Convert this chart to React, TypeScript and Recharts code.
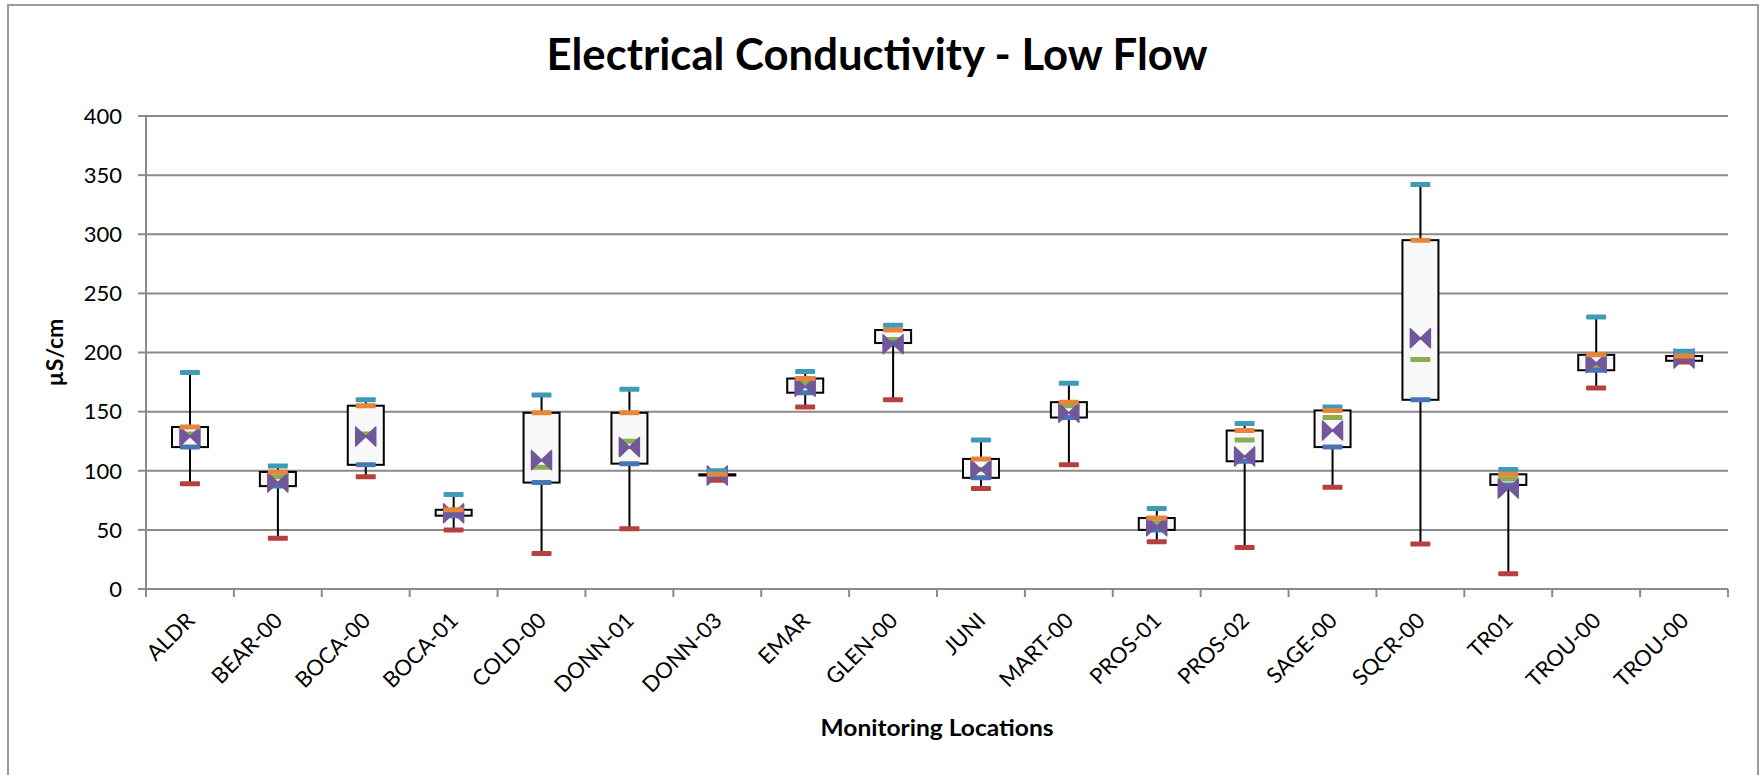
import {
  ComposedChart,
  Bar,
  Line,
  XAxis,
  YAxis,
  CartesianGrid
} from "recharts";

const categories = [
  "ALDR", "BEAR-00", "BOCA-00", "BOCA-01", "COLD-00", "DONN-01", "DONN-03", "EMAR", "GLEN-00",
  "JUNI", "MART-00", "PROS-01", "PROS-02", "SAGE-00", "SQCR-00", "TR01", "TROU-00", "TROU-00"
];
const minVals = [89, 43, 95, 50, 30, 51, 92, 154, 160, 85, 105, 40, 35, 86, 38, 13, 170, 192];
const q1Vals = [120, 87, 105, 62, 90, 106, 96, 166, 208, 94, 145, 50, 108, 120, 160, 88, 185, 193];
const medianVals = [131, 95, 131, 65, 103, 125, 97, 174, 211, 101, 155, 56, 126, 145, 194, 93, 189, 195];
const q3Vals = [137, 99, 155, 67, 149, 149, 97, 178, 219, 110, 158, 60, 134, 151, 295, 97, 198, 197];
const maxVals = [183, 104, 160, 80, 164, 169, 100, 184, 223, 126, 174, 68, 140, 154, 342, 101, 230, 201];
const meanVals = [129, 90, 129, 64, 109, 120, 96, 171, 207, 101, 149, 53, 112, 134, 212, 85, 191, 195];

const yTicks = [0, 50, 100, 150, 200, 250, 300, 350, 400];

// category i sits at i + 0.5, tick marks between categories at integers
const xTicks: number[] = [];
for (let i = 0; i <= categories.length; i++) {
  xTicks.push(i);
  if (i < categories.length) xTicks.push(i + 0.5);
}

const data = categories.map((name, i) => ({
  x: i + 0.5,
  name,
  base: minVals[i],
  lowW: q1Vals[i] - minVals[i],
  box: q3Vals[i] - q1Vals[i],
  highW: maxVals[i] - q3Vals[i],
  min: minVals[i],
  q1: q1Vals[i],
  median: medianVals[i],
  q3: q3Vals[i],
  max: maxVals[i],
  mean: meanVals[i]
}));

const GRID = "#8a8a8a";
const FONT = "Lato, 'Open Sans', sans-serif";

const Whisker = (p: any) => (
  <line x1={p.x + p.width / 2} x2={p.x + p.width / 2} y1={p.y} y2={p.y + p.height} stroke="#000" strokeWidth={2} />
);
const BoxShape = (p: any) => (
  <rect x={p.x} y={p.y} width={p.width} height={Math.max(p.height, 1)} fill="#f8f8f8" stroke="#000" strokeWidth={2} />
);

const dash = (color: string) => (p: any) => {
  if (p.cx == null || p.cy == null) return <g key={p.key} />;
  return <rect key={p.key} x={p.cx - 10} y={p.cy - 2.5} width={20} height={5} rx={1} fill={color} />;
};

const bowtie = (p: any) => {
  if (p.cx == null || p.cy == null) return <g key={p.key} />;
  const { cx, cy } = p;
  return (
    <path
      key={p.key}
      d={`M${cx - 10},${cy - 9.5} L${cx},${cy} L${cx - 10},${cy + 9.5} Z M${cx + 10},${cy - 9.5} L${cx},${cy} L${cx + 10},${cy + 9.5} Z`}
      fill="#72589b"
      stroke="#72589b"
      strokeWidth={1.5}
      strokeLinejoin="round"
    />
  );
};

const XTick = (props: any) => {
  const { x, y, payload } = props;
  const v = payload.value;
  if (Number.isInteger(v)) {
    return <line x1={x} x2={x} y1={y} y2={y + 8} stroke={GRID} strokeWidth={2} />;
  }
  const tx = x + 6;
  const ty = y + 33;
  return (
    <text
      x={tx}
      y={ty}
      transform={`rotate(-45 ${tx} ${ty})`}
      textAnchor="end"
      fontSize={22}
      fontFamily={FONT}
      fill="#000"
    >
      {categories[Math.floor(v)]}
    </text>
  );
};

export default function App() {
  return (
    <div
      style={{
        position: "absolute",
        left: 0,
        top: 0,
        width: 1759,
        height: 775,
        overflow: "hidden",
        background: "#fff"
      }}
    >
      <div
        style={{
          position: "absolute",
          left: 7,
          top: 4,
          width: 1748,
          height: 800,
          border: "2px solid #9a9a9a"
        }}
      />
      <svg width={1759} height={100} style={{ position: "absolute", left: 0, top: 0 }}>
        <text
          x={877}
          y={70}
          textAnchor="middle"
          fontSize={44}
          fontWeight="bold"
          fontFamily={FONT}
          textLength={661}
          lengthAdjust="spacingAndGlyphs"
        >
          Electrical Conductivity - Low Flow
        </text>
      </svg>
      <div style={{ position: "absolute", left: 0, top: 0 }}>
        <ComposedChart
          width={1759}
          height={775}
          data={data}
          margin={{ top: 116, right: 31, bottom: 36, left: 0 }}
        >
          <CartesianGrid vertical={false} stroke={GRID} strokeWidth={2} />
          <XAxis
            dataKey="x"
            type="number"
            domain={[0, categories.length]}
            ticks={xTicks}
            interval={0}
            height={150}
            tickSize={0}
            tickMargin={0}
            tickLine={false}
            axisLine={{ stroke: GRID, strokeWidth: 2 }}
            tick={<XTick />}
            label={{
              content: (lp: any) => {
                const vb = lp.viewBox || {};
                return (
                  <text
                    x={vb.x + vb.width / 2}
                    y={736}
                    textAnchor="middle"
                    fontSize={22}
                    fontWeight="bold"
                    fontFamily={FONT}
                    textLength={233}
                    lengthAdjust="spacingAndGlyphs"
                  >
                    Monitoring Locations
                  </text>
                );
              }
            }}
          />
          <YAxis
            type="number"
            domain={[0, 400]}
            ticks={yTicks}
            interval={0}
            width={146}
            tickSize={8}
            tickMargin={16}
            tickLine={{ stroke: GRID, strokeWidth: 2 }}
            axisLine={{ stroke: GRID, strokeWidth: 2 }}
            tick={{ fill: "#000", fontSize: 22, fontFamily: FONT }}
            label={{
              content: (lp: any) => {
                const vb = lp.viewBox || {};
                const cy = vb.y + vb.height / 2;
                return (
                  <text
                    x={63}
                    y={cy}
                    transform={`rotate(-90 63 ${cy})`}
                    textAnchor="middle"
                    fontSize={23}
                    fontWeight="bold"
                    fontFamily={FONT}
                  >
                    µS/cm
                  </text>
                );
              }
            }}
          />
          <Bar dataKey="base" stackId="b" barSize={36} fill="none" shape={() => <g />} isAnimationActive={false} />
          <Bar dataKey="lowW" stackId="b" barSize={36} shape={Whisker} isAnimationActive={false} />
          <Bar dataKey="box" stackId="b" barSize={36} shape={BoxShape} isAnimationActive={false} />
          <Bar dataKey="highW" stackId="b" barSize={36} shape={Whisker} isAnimationActive={false} />
          <Line dataKey="median" stroke="none" dot={dash("#8cad4f")} activeDot={false} isAnimationActive={false} />
          <Line dataKey="q1" stroke="none" dot={dash("#4676b3")} activeDot={false} isAnimationActive={false} />
          <Line dataKey="min" stroke="none" dot={dash("#b5403e")} activeDot={false} isAnimationActive={false} />
          <Line dataKey="mean" stroke="none" dot={bowtie} activeDot={false} isAnimationActive={false} />
          <Line dataKey="max" stroke="none" dot={dash("#3f9ab8")} activeDot={false} isAnimationActive={false} />
          <Line dataKey="q3" stroke="none" dot={dash("#e5863a")} activeDot={false} isAnimationActive={false} />
        </ComposedChart>
      </div>
    </div>
  );
}
